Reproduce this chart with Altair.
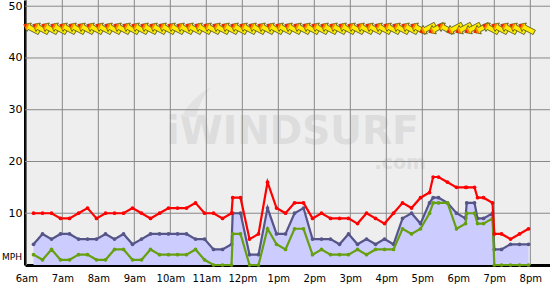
import altair as alt
import pandas as pd

# ---- data ----
times = ["6:12", "6:27", "6:42", "6:57", "7:12", "7:27", "7:42", "7:57", "8:12", "8:27",
         "8:42", "8:57", "9:12", "9:27", "9:42", "9:57", "10:12", "10:27", "10:42", "10:57",
         "11:12", "11:27", "11:42", "11:44", "11:57", "12:12", "12:27", "12:42", "12:57", "13:12",
         "13:27", "13:42", "13:57", "14:12", "14:27", "14:42", "14:57", "15:12", "15:27", "15:42",
         "15:57", "16:12", "16:27", "16:42", "16:57", "17:12", "17:18", "17:27", "17:42", "17:57",
         "18:12", "18:14", "18:27", "18:32", "18:42", "18:57", "19:00", "19:12", "19:27", "19:42",
         "19:57"]
gust = [10, 10, 10, 9, 9, 10, 11, 9, 10, 10,
        10, 11, 10, 9, 10, 11, 11, 11, 12, 10,
        10, 9, 10, 13, 13, 5, 6, 16, 11, 10,
        12, 12, 9, 10, 9, 9, 9, 8, 10, 9,
        8, 10, 12, 11, 13, 14, 17, 17, 16, 15,
        15, 15, 15, 13, 13, 12, 6, 6, 5, 6,
        7]
avg = [4, 6, 5, 6, 6, 5, 5, 5, 6, 5,
       6, 4, 5, 6, 6, 6, 6, 6, 5, 5,
       3, 3, 4, 10, 10, 2, 2, 11, 6, 6,
       10, 11, 5, 5, 5, 4, 6, 4, 5, 4,
       5, 4, 9, 10, 8, 12, 13, 13, 12, 10,
       9, 12, 12, 9, 9, 10, 3, 3, 4, 4,
       4]
lull = [2, 1, 3, 1, 1, 2, 2, 1, 1, 3,
        3, 1, 1, 3, 2, 2, 2, 2, 3, 1,
        0, 0, 0, 6, 6, 0, 0, 7, 4, 3,
        7, 7, 2, 3, 2, 2, 2, 3, 2, 3,
        3, 3, 7, 6, 7, 10, 12, 12, 12, 7,
        8, 10, 10, 8, 8, 9, 0, 0, 0, 0,
        0]

arrow_times = ["6:12", "6:27", "6:42", "6:57", "7:12", "7:27", "7:42", "7:57", "8:12", "8:27",
               "8:42", "8:57", "9:12", "9:27", "9:42", "9:57", "10:12", "10:27", "10:42", "10:57",
               "11:12", "11:27", "11:42", "11:57", "12:12", "12:27", "12:42", "12:57", "13:12", "13:27",
               "13:42", "13:57", "14:12", "14:27", "14:42", "14:57", "15:12", "15:27", "15:42", "15:57",
               "16:12", "16:27", "16:42", "16:57", "17:12", "17:27", "17:42", "17:57", "18:12", "18:27",
               "18:42", "18:57", "19:12", "19:27", "19:42", "19:57"]
# direction the arrow points (screen degrees, clockwise from "right")
arrow_dir = [207] * 44 + [153, 153, 207, 153, 153, 153, 153, 207, 207, 207, 207, 207]

hour_ticks = list(range(360, 1201, 60))
mph_ticks = [10, 20, 30, 40, 50]


def to_min(s):
    h, m = s.split(":")
    return int(h) * 60 + int(m)


df = pd.DataFrame({"t": [to_min(s) for s in times], "gust": gust, "avg": avg, "lull": lull})
arr = pd.DataFrame({"t": [to_min(s) for s in arrow_times], "dir": arrow_dir, "lvl": 45.7})

FONT = "DejaVu Sans"
xs = alt.Scale(domain=[357.8, 1232.8], nice=False, zero=False)
ys = alt.Scale(domain=[0, 51.2], nice=False, zero=False)

x_axis = alt.Axis(values=hour_ticks, grid=False, ticks=False, domainColor="black", domainWidth=3,
                  labelFont=FONT, labelFontSize=10, labelColor="black", labelPadding=8,
                  labelFlush=False, labelOverlap=False, labelBound=False, title=None,
                  labelExpr="datum.value < 720 ? (datum.value/60) + 'am' : (datum.value == 720 ? '12pm' : (datum.value/60 - 12) + 'pm')")
y_axis = alt.Axis(values=mph_ticks, grid=False, ticks=False, domainColor="black", domainWidth=3,
                  labelFont=FONT, labelFontSize=11, labelColor="black", labelPadding=3,
                  labelOverlap=False, title=None)


def X(f):
    return alt.X(f, scale=xs, axis=x_axis)


def Y(f):
    return alt.Y(f, scale=ys, axis=y_axis)


wm = pd.DataFrame({"t": [803.6], "v": [23.3], "txt": ["iWINDSURF"]})
wm2 = pd.DataFrame({"t": [1026.0], "v": [18.5], "txt": [".com"]})
fin = pd.DataFrame({"t": [643.0], "v": [31.5]})

watermark = alt.Chart(wm).mark_text(font=FONT, fontWeight="bold", fontSize=39, color="#dddddd",
                                    baseline="alphabetic", align="center").encode(
    x=X("t:Q"), y=Y("v:Q"), text="txt:N")
watermark2 = alt.Chart(wm2).mark_text(font=FONT, fontWeight="bold", fontSize=19, color="#dddddd",
                                      baseline="alphabetic", align="right").encode(
    x=X("t:Q"), y=Y("v:Q"), text="txt:N")
fin_mark = alt.Chart(fin).mark_point(filled=True, color="#e2e2e2", opacity=1, size=900,
                                     shape="M-1,1 Q-0.3,-0.3 1,-1 Q0.2,-0.1 0,1 Z").encode(
    x=X("t:Q"), y=Y("v:Q"))

vgrid = alt.Chart(pd.DataFrame({"h": hour_ticks})).mark_rule(color="#888888", strokeWidth=1).encode(
    x=X("h:Q"))
hgrid = alt.Chart(pd.DataFrame({"m": mph_ticks})).mark_rule(color="#888888", strokeWidth=1).encode(
    y=Y("m:Q"))

base = alt.Chart(df).encode(x=X("t:Q"))
area = base.mark_area(color="#ccccff", opacity=1).encode(y=Y("avg:Q"))


def series(field, color, width):
    ln = base.mark_line(color=color, strokeWidth=width).encode(y=Y(f"{field}:Q"))
    pt = base.mark_point(filled=True, color=color, opacity=1, size=14, shape="circle").encode(
        y=Y(f"{field}:Q"))
    return ln + pt


ARROW = "M1,0 L0.3,-0.55 L0.3,-0.28 L-1,-0.28 L-1,0.28 L0.3,0.28 L0.3,0.55 Z"
HEAD = "M1,0 L0.45,-0.42 L0.45,0.42 Z"
TIP = "M1,0 L0.7,-0.22 L0.7,0.22 Z"
ab = alt.Chart(arr).encode(x=X("t:Q"), y=Y("lvl:Q"), angle=alt.Angle("dir:Q", scale=None))
arrows = ab.mark_point(shape=ARROW, size=300, filled=True, fill="#ffee00", stroke="#5a5a20",
                       strokeWidth=0.8, opacity=1, xOffset=-2)
heads = ab.mark_point(shape=HEAD, size=300, filled=True, fill="#ff8800", strokeWidth=0,
                      opacity=1, xOffset=-2)
tips = ab.mark_point(shape=TIP, size=300, filled=True, fill="#ee1100", strokeWidth=0,
                     opacity=1, xOffset=-2)

mph = alt.Chart(pd.DataFrame({"v": [1.6], "s": ["MPH"]})).mark_text(
    font=FONT, fontSize=9, color="black", align="right", baseline="middle").encode(
    x=alt.value(-3), y=Y("v:Q"), text="s:N")

chart = alt.layer(
    watermark, watermark2, fin_mark, vgrid, hgrid, area,
    series("avg", "#555588", 2.2), series("lull", "#66a010", 2.2), series("gust", "#ff0000", 2.2),
    arrows, heads, tips, mph
).properties(
    width=525, height=265,
    autosize=alt.AutoSizeParams(type="none"),
    padding={"left": 25, "right": 0, "top": 0, "bottom": 20},
    background="white",
).configure_view(stroke=None, fill="#eeeeee").configure_axis(labelOverlap=False)

chart.save("out.html", embed_options={"renderer": "svg", "actions": False})
